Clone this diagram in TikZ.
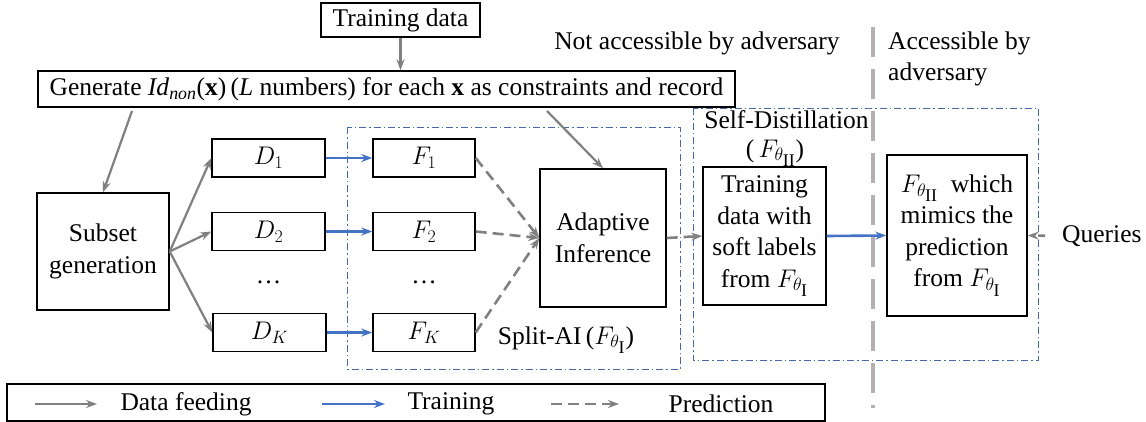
\RequirePackage{fix-cm}
\documentclass[tikz,border=0pt]{standalone}
\usepackage{amsmath}
\usepackage{fontspec}
\setmainfont{Liberation Serif}
\usetikzlibrary{arrows.meta}
\definecolor{agray}{RGB}{128,128,128}
\definecolor{ablue}{RGB}{68,114,196}
\definecolor{fblue}{RGB}{70,105,170}
\definecolor{dgray}{RGB}{180,176,180}
\newcommand{\FI}{F_{\theta_{\scriptstyle\mathrm{I}}}}
\newcommand{\FII}{F_{\theta_{\scriptstyle\mathrm{II}}}}
\begin{document}
\begin{tikzpicture}[x=1pt,y=-1pt,
  every node/.style={font=\fontsize{25.5}{31.5}\selectfont, inner sep=0pt},
  box/.style={draw=black, line width=1.4pt, align=center},
  feed/.style={draw=agray, line width=2.2pt, -{Stealth[length=11pt,width=8pt]}},
  train/.style={draw=ablue, line width=2.6pt, -{Stealth[length=11pt,width=8pt]}},
  pred/.style={draw=agray, line width=2.6pt, dash pattern=on 11pt off 6pt, -{Stealth[length=11pt,width=8pt]}},
  frame/.style={draw=fblue, line width=1pt, dash pattern=on 7pt off 3pt on 1.5pt off 3pt},
  divider/.style={draw=dgray, line width=4pt, dash pattern=on 30pt off 12pt}]
\useasboundingbox (0,0) rectangle (1146,421);

% frames
\draw[frame] (347,127) rectangle (680,369);
\draw[frame] (693,108) rectangle (1038,360);

% divider
\coordinate (dv1) at (873,27);
\coordinate (dv2) at (873,408);
\draw[divider] (dv1) -- (dv2);

% nodes
\node[box, minimum width=159pt, minimum height=34pt] (td) at (400.5,20) {Training data};
\node[box, minimum width=697pt, minimum height=36pt] (gen) at (386.5,89)
  {Generate \textit{Id}$_{\textit{non}}$(\textbf{x})\,(\textit{L} numbers) for each \textbf{x} as constraints and record};
\node[box, minimum width=132pt, minimum height=117pt] (sub) at (103,251.5) {Subset\\generation};

\node[box, minimum width=113pt, minimum height=38pt] (d1) at (268.5,158) {$D_1$};
\node[box, minimum width=113pt, minimum height=38pt] (d2) at (268.5,231.5) {$D_2$};
\node (ddots) at (268.5,282) {\ldots};
\node[box, minimum width=113pt, minimum height=38pt] (dk) at (269.5,332.5) {$D_K$};

\node[box, minimum width=102pt, minimum height=38pt] (f1) at (424,158) {$F_1$};
\node[box, minimum width=102pt, minimum height=38pt] (f2) at (424,231.5) {$F_2$};
\node (fdots) at (424,282) {\ldots};
\node[box, minimum width=102pt, minimum height=38pt] (fk) at (424,332.5) {$F_K$};

\node[box, minimum width=126pt, minimum height=138pt] (ada) at (603,238) {Adaptive\\Inference};
\node[box, minimum width=123pt, minimum height=138pt] (soft) at (764.5,236)
  {Training\\data with\\soft labels\\from $\FI$};
\node[box, minimum width=140pt, minimum height=161pt] (mimic) at (957,235.5)
  {$\FII$\ \ which\\mimics the\\prediction\\from $\FI$};
\node[anchor=west] (q) at (1062,236) {Queries};

\node (splitlbl) at (566,340) {Split-AI\,($\FI$)};
\node (sdlbl) at (786.5,120) {Self-Distillation};
\node (sdsub) at (775,153) {(\,$\FII$)};
\node (notacc) at (697,43) {Not accessible by adversary};
\node[anchor=west, align=left] (acc) at (888,59) {Accessible by\\adversary};

% connectors
\draw[feed] (td.south) -- (td.south |- gen.north);
\coordinate (g1) at (132,111);
\coordinate (g2) at (547,111);
\draw[feed] (g1) -- (sub.north);
\draw[feed] (g2) -- (ada.north);
\draw[feed] (sub.east) -- (d1.west);
\draw[feed] (sub.east) -- (d2.west);
\draw[feed] (sub.east) -- (dk.west);
\draw[train] (d1.east) -- (f1.west);
\draw[train] (d2.east) -- (f2.west);
\draw[train] (dk.east) -- (fk.west);
\draw[pred] (f1.east) -- (ada.west);
\draw[pred] (f2.east) -- (ada.west);
\draw[pred] (fk.east) -- (ada.west);
\draw[pred] (ada.east) -- (soft.west);
\draw[train] (soft.east) -- (mimic.west);
\draw[pred, dash pattern=on 7pt off 4pt, shorten <=17pt] (q.west) -- (mimic.east);

% legend
\node[draw=black, line width=1.4pt, minimum width=818pt, minimum height=37pt] (legend) at (416,402.5) {};
\coordinate (la1) at (35,404); \coordinate (la2) at (97,404);
\coordinate (lb1) at (322,404); \coordinate (lb2) at (385,404);
\coordinate (lc1) at (551,404); \coordinate (lc2) at (619,404);
\draw[feed] (la1) -- (la2);
\draw[train] (lb1) -- (lb2);
\draw[pred] (lc1) -- (lc2);
\node (ltxt1) at (186,404) {Data feeding};
\node (ltxt2) at (451,404) {Training};
\node (ltxt3) at (721,404) {Prediction};
\end{tikzpicture}
\end{document}
